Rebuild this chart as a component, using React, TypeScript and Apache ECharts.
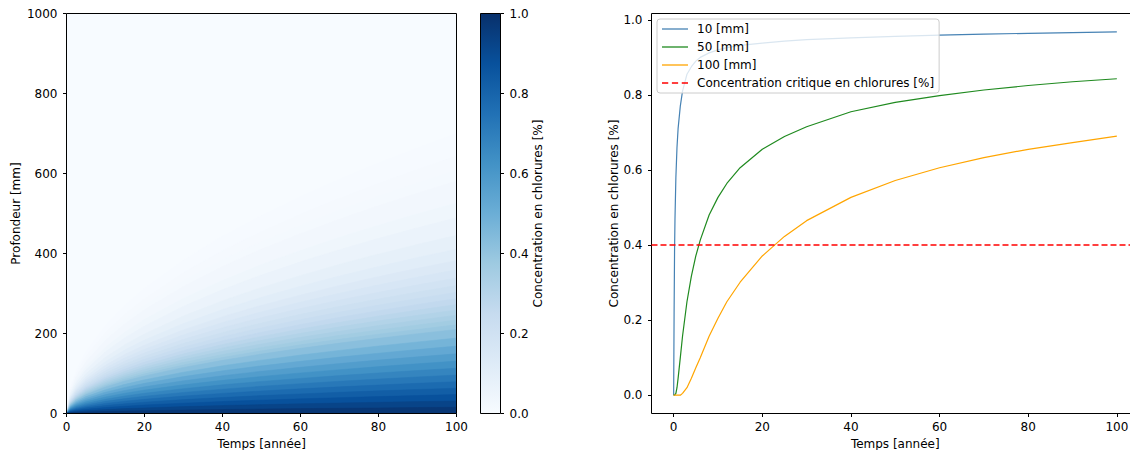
import React, { useEffect, useRef } from 'react';
import * as echarts from 'echarts';

// ---------- colour map (matplotlib "Blues") ----------
const BLUES = ['#f7fbff', '#deebf7', '#c6dbef', '#9ecae1', '#6baed6', '#4292c6', '#2171b5', '#08519c', '#08306b'];

// ---------- left panel: concentration field (iso-concentration depths, mm) ----------
const HEAT_TIMES = [0, 1, 2.5, 5, 10, 15, 20, 30, 40, 50, 60, 70, 80, 90, 100];
const HEAT_LEVELS = [0.95, 0.9, 0.85, 0.8, 0.75, 0.7, 0.65, 0.6, 0.55, 0.5, 0.45, 0.4, 0.375, 0.35, 0.325, 0.3, 0.275, 0.25, 0.225, 0.2, 0.175, 0.15, 0.125, 0.1, 0.075, 0.05, 0.035, 0.02, 0.015, 0.01, 0.005];
const LEVEL_DEPTHS = [
  [0, 1.6, 2.5, 3.5, 5.0, 6.1, 7.0, 8.6, 9.9, 11.1, 12.2, 13.1, 14.0, 14.9, 15.7],
  [0, 3.1, 5.0, 7.0, 9.9, 12.2, 14.0, 17.2, 19.9, 22.2, 24.3, 26.3, 28.1, 29.8, 31.4],
  [0, 4.7, 7.5, 10.6, 15.0, 18.3, 21.2, 25.9, 29.9, 33.4, 36.6, 39.6, 42.3, 44.9, 47.3],
  [0, 6.3, 10.0, 14.2, 20.0, 24.5, 28.3, 34.7, 40.0, 44.8, 49.0, 53.0, 56.6, 60.1, 63.3],
  [0, 8.0, 12.6, 17.8, 25.2, 30.8, 35.6, 43.6, 50.3, 56.3, 61.7, 66.6, 71.2, 75.5, 79.6],
  [0, 9.6, 15.2, 21.5, 30.5, 37.3, 43.1, 52.7, 60.9, 68.1, 74.6, 80.6, 86.1, 91.4, 96.3],
  [0, 11.3, 17.9, 25.3, 35.8, 43.9, 50.7, 62.1, 71.7, 80.1, 87.8, 94.8, 101.3, 107.5, 113.3],
  [0, 13.1, 20.7, 29.3, 41.4, 50.7, 58.6, 71.7, 82.9, 92.6, 101.5, 109.6, 117.2, 124.3, 131.0],
  [0, 14.9, 23.6, 33.4, 47.2, 57.8, 66.8, 81.8, 94.4, 105.6, 115.6, 124.9, 133.5, 141.6, 149.3],
  [0, 16.9, 26.6, 37.7, 53.3, 65.3, 75.4, 92.3, 106.6, 119.1, 130.5, 141.0, 150.7, 159.9, 168.5],
  [0, 18.9, 29.8, 42.2, 59.6, 73.0, 84.3, 103.3, 119.3, 133.4, 146.1, 157.8, 168.7, 178.9, 188.6],
  [0, 21.0, 33.2, 47.0, 66.5, 81.4, 94.0, 115.2, 133.0, 148.7, 162.9, 176.0, 188.1, 199.5, 210.3],
  [0, 22.2, 35.1, 49.6, 70.1, 85.9, 99.1, 121.4, 140.2, 156.8, 171.7, 185.5, 198.3, 210.3, 221.7],
  [0, 23.4, 36.9, 52.2, 73.8, 90.4, 104.4, 127.9, 147.7, 165.1, 180.9, 195.4, 208.8, 221.5, 233.5],
  [0, 24.6, 38.9, 55.0, 77.8, 95.2, 110.0, 134.7, 155.5, 173.9, 190.5, 205.7, 219.9, 233.3, 245.9],
  [0, 25.9, 40.9, 57.9, 81.9, 100.3, 115.8, 141.8, 163.8, 183.1, 200.5, 216.6, 231.6, 245.6, 258.9],
  [0, 27.3, 43.1, 61.0, 86.2, 105.6, 121.9, 149.3, 172.4, 192.8, 211.2, 228.1, 243.8, 258.6, 272.6],
  [0, 28.7, 45.4, 64.3, 90.9, 111.3, 128.5, 157.4, 181.8, 203.2, 222.6, 240.5, 257.1, 272.7, 287.4],
  [0, 30.3, 47.9, 67.8, 95.9, 117.4, 135.6, 166.1, 191.8, 214.4, 234.9, 253.7, 271.2, 287.6, 303.2],
  [0, 32.0, 50.6, 71.6, 101.2, 124.0, 143.2, 175.4, 202.5, 226.4, 248.0, 267.9, 286.4, 303.8, 320.2],
  [0, 33.9, 53.6, 75.8, 107.2, 131.3, 151.6, 185.7, 214.4, 239.7, 262.6, 283.6, 303.2, 321.6, 339.0],
  [0, 36.0, 56.9, 80.4, 113.7, 139.3, 160.8, 197.0, 227.4, 254.3, 278.5, 300.9, 321.6, 341.2, 359.6],
  [0, 38.3, 60.5, 85.6, 121.0, 148.2, 171.1, 209.6, 242.1, 270.6, 296.4, 320.2, 342.3, 363.1, 382.7],
  [0, 41.1, 65.0, 91.9, 129.9, 159.1, 183.8, 225.1, 259.9, 290.5, 318.3, 343.8, 367.5, 389.8, 410.9],
  [0, 44.6, 70.5, 99.7, 141.0, 172.7, 199.4, 244.2, 282.0, 315.2, 345.3, 373.0, 398.7, 422.9, 445.8],
  [0, 49.0, 77.4, 109.5, 154.8, 189.6, 218.9, 268.2, 309.7, 346.2, 379.2, 409.6, 437.9, 464.5, 489.6],
  [0, 52.7, 83.2, 117.7, 166.5, 203.9, 235.5, 288.4, 333.0, 372.3, 407.8, 440.5, 470.9, 499.5, 526.5],
  [0, 58.1, 91.9, 130.0, 183.8, 225.1, 259.9, 318.3, 367.6, 411.0, 450.2, 486.3, 519.8, 551.4, 581.2],
  [0, 60.9, 96.2, 136.1, 192.4, 235.7, 272.1, 333.3, 384.9, 430.3, 471.3, 509.1, 544.2, 577.3, 608.5],
  [0, 64.4, 101.7, 143.9, 203.5, 249.2, 287.8, 352.4, 407.0, 455.0, 498.5, 538.4, 575.5, 610.5, 643.5],
  [0, 70.1, 110.9, 156.8, 221.8, 271.6, 313.6, 384.1, 443.6, 495.9, 543.2, 586.8, 627.2, 665.3, 701.3],
];
const HEAT_X_RANGE = [0, 100];
const HEAT_Y_RANGE = [0, 1000];

// ---------- right panel: concentration vs time at three depths ----------
const LINE_TIMES = [0, 0.1, 0.2, 0.3, 0.5, 0.75, 1, 1.5, 2, 3, 4, 5, 6, 8, 10, 12, 15, 20, 25, 30, 40, 50, 60, 70, 80, 90, 100];
const C_10MM = [0, 0.22, 0.38, 0.47, 0.58, 0.66, 0.71, 0.77, 0.81, 0.855, 0.875, 0.89, 0.9, 0.912, 0.92, 0.926, 0.932, 0.938, 0.943, 0.947, 0.952, 0.956, 0.959, 0.962, 0.964, 0.966, 0.968];
const C_50MM = [0, 0, 0, 0, 0.005, 0.02, 0.045, 0.1, 0.157, 0.249, 0.317, 0.371, 0.413, 0.48, 0.527, 0.564, 0.606, 0.655, 0.689, 0.715, 0.755, 0.78, 0.798, 0.813, 0.825, 0.835, 0.843];
const C_100MM = [0, 0, 0, 0, 0, 0, 0, 0, 0.005, 0.02, 0.045, 0.073, 0.1, 0.157, 0.205, 0.249, 0.301, 0.371, 0.423, 0.465, 0.527, 0.572, 0.606, 0.633, 0.655, 0.673, 0.69];
const CRITICAL = 0.4;
const SERIES_NAMES = ['10 [mm]', '50 [mm]', '100 [mm]', 'Concentration critique en chlorures [%]'];
const RIGHT_X_TICKS = [0, 20, 40, 60, 80, 100];
const RIGHT_Y_TICKS = [0, 0.2, 0.4, 0.6, 0.8, 1.0];
const RIGHT_X_RANGE = [-5, 105];
const RIGHT_Y_RANGE = [-0.0487, 1.0168];
const CBAR_TICKS_INTERVAL = 0.2;

const FONT = 'DejaVu Sans';
const FS = 12;
const SOLID_ICON = 'path://M0,0h26v1.3h-26z';
const DASH_ICON = 'path://M0,0h6v1.5h-6z M9.5,0h6v1.5h-6z M19,0h6v1.5h-6z';

function cmap(v: number): string {
  return echarts.color.lerp(Math.max(0, Math.min(1, v)), BLUES) as string;
}

export default function App() {
  const ref = useRef<HTMLDivElement>(null);

  useEffect(() => {
    const chart = echarts.init(ref.current!, null, { renderer: 'svg' });

    // draw order: background, deepest level ... shallowest level, frame
    const order: Array<number | 'bg' | 'frame'> = ['bg'];
    for (let i = HEAT_LEVELS.length - 1; i >= 0; i--) order.push(i);
    order.push('frame');

    const tickStyle = { show: true, length: 3.5, inside: false, lineStyle: { color: '#000', width: 1 } };
    const labelStyle = { color: '#000', fontSize: FS, fontFamily: FONT };
    const nameStyle = { color: '#000', fontSize: FS, fontFamily: FONT };
    const noLine = { show: false, onZero: false };

    const lineSeries = (name: string, vals: number[], color: string) => ({
      type: 'line',
      name,
      xAxisIndex: 2,
      yAxisIndex: 2,
      data: LINE_TIMES.map((t, i) => [t, vals[i]]),
      symbol: 'none',
      showSymbol: false,
      smooth: false,
      lineStyle: { color, width: 1.2 },
      itemStyle: { color },
      z: 3,
    });

    const option: any = {
      animation: false,
      backgroundColor: '#ffffff',
      grid: [
        { left: 66.5, top: 13.5, width: 390, height: 400, show: false, containLabel: false, outerBoundsMode: 'none' },
        { left: 480.5, top: 13.5, width: 20, height: 400, show: false, containLabel: false, outerBoundsMode: 'none' },
        { left: 651.5, top: 13.5, width: 487.5, height: 400, show: true, borderColor: '#000', borderWidth: 1, backgroundColor: 'transparent', containLabel: false, outerBoundsMode: 'none' },
      ],
      xAxis: [
        {
          gridIndex: 0, type: 'value', min: HEAT_X_RANGE[0], max: HEAT_X_RANGE[1], interval: 20,
          axisLine: noLine, axisTick: tickStyle, splitLine: { show: false },
          axisLabel: { ...labelStyle, margin: 7 },
          name: 'Temps [année]', nameLocation: 'middle', nameGap: 24, nameTextStyle: nameStyle,
        },
        { gridIndex: 1, type: 'value', min: 0, max: 1, show: false, axisLine: noLine },
        {
          gridIndex: 2, type: 'value', min: RIGHT_X_RANGE[0], max: RIGHT_X_RANGE[1],
          axisLine: noLine, splitLine: { show: false },
          axisTick: { ...tickStyle, customValues: RIGHT_X_TICKS },
          axisLabel: { ...labelStyle, margin: 7, customValues: RIGHT_X_TICKS },
          name: 'Temps [année]', nameLocation: 'middle', nameGap: 24, nameTextStyle: nameStyle,
        },
      ],
      yAxis: [
        {
          gridIndex: 0, type: 'value', min: HEAT_Y_RANGE[0], max: HEAT_Y_RANGE[1], interval: 200,
          axisLine: noLine, axisTick: tickStyle, splitLine: { show: false },
          axisLabel: { ...labelStyle, margin: 9, formatter: (v: number) => String(v) },
          name: 'Profondeur [mm]', nameLocation: 'middle', nameRotate: 90, nameGap: 45, nameTextStyle: nameStyle,
        },
        {
          gridIndex: 1, type: 'value', position: 'right', min: 0, max: 1, interval: CBAR_TICKS_INTERVAL,
          axisLine: noLine, axisTick: tickStyle, splitLine: { show: false },
          axisLabel: { ...labelStyle, margin: 9, formatter: (v: number) => v.toFixed(1) },
          name: 'Concentration en chlorures [%]', nameLocation: 'middle', nameRotate: 90, nameGap: 30, nameTextStyle: nameStyle,
        },
        {
          gridIndex: 2, type: 'value', min: RIGHT_Y_RANGE[0], max: RIGHT_Y_RANGE[1],
          axisLine: noLine, splitLine: { show: false },
          axisTick: { ...tickStyle, customValues: RIGHT_Y_TICKS },
          axisLabel: { ...labelStyle, margin: 9, customValues: RIGHT_Y_TICKS, formatter: (v: number) => v.toFixed(1) },
          name: 'Concentration en chlorures [%]', nameLocation: 'middle', nameRotate: 90, nameGap: 32, nameTextStyle: nameStyle,
        },
      ],
      legend: {
        show: true,
        orient: 'vertical',
        left: 657,
        top: 19,
        itemWidth: 26,
        itemHeight: 12,
        itemGap: 6,
        padding: [4, 5, 4, 5],
        backgroundColor: 'rgba(255,255,255,0.8)',
        borderColor: '#cccccc',
        borderWidth: 1,
        borderRadius: 3,
        textStyle: { color: '#000', fontSize: FS, fontFamily: FONT, padding: [0, 0, 0, 4] },
        data: [
          { name: SERIES_NAMES[0], icon: SOLID_ICON },
          { name: SERIES_NAMES[1], icon: SOLID_ICON },
          { name: SERIES_NAMES[2], icon: SOLID_ICON },
          { name: SERIES_NAMES[3], icon: DASH_ICON },
        ],
        z: 10,
      },
      series: [
        {
          type: 'custom',
          coordinateSystem: 'cartesian2d',
          xAxisIndex: 0,
          yAxisIndex: 0,
          clip: false,
          silent: true,
          z: 1,
          data: order.map((_, i) => [i]),
          renderItem: (params: any, api: any) => {
            const item = order[params.dataIndex];
            const p0 = api.coord([HEAT_X_RANGE[0], HEAT_Y_RANGE[1]]);
            const p1 = api.coord([HEAT_X_RANGE[1], HEAT_Y_RANGE[0]]);
            if (item === 'bg') {
              return {
                type: 'rect', z2: 0,
                shape: { x: p0[0], y: p0[1], width: p1[0] - p0[0], height: p1[1] - p0[1] },
                style: { fill: cmap(HEAT_LEVELS[HEAT_LEVELS.length - 1] / 2) },
              };
            }
            if (item === 'frame') {
              return {
                type: 'rect', z2: 1000,
                shape: { x: p0[0], y: p0[1], width: p1[0] - p0[0], height: p1[1] - p0[1] },
                style: { fill: 'none', stroke: '#000', lineWidth: 1 },
              };
            }
            const i = item as number;
            const upper = i === 0 ? 1 : HEAT_LEVELS[i - 1];
            const color = cmap((HEAT_LEVELS[i] + upper) / 2);
            const pts = HEAT_TIMES.map((t, j) => api.coord([t, LEVEL_DEPTHS[i][j]]));
            pts.push(api.coord([HEAT_X_RANGE[1], HEAT_Y_RANGE[0]]));
            pts.push(api.coord([HEAT_X_RANGE[0], HEAT_Y_RANGE[0]]));
            return {
              type: 'polygon', z2: 10 + (HEAT_LEVELS.length - i),
              shape: { points: pts },
              style: { fill: color, stroke: color, lineWidth: 0.5 },
            };
          },
        },
        {
          type: 'custom',
          coordinateSystem: 'cartesian2d',
          xAxisIndex: 1,
          yAxisIndex: 1,
          clip: false,
          silent: true,
          z: 1,
          data: [[0]],
          renderItem: (params: any, api: any) => {
            const p0 = api.coord([0, 1]);
            const p1 = api.coord([1, 0]);
            return {
              type: 'rect',
              shape: { x: p0[0], y: p0[1], width: p1[0] - p0[0], height: p1[1] - p0[1] },
              style: {
                fill: new echarts.graphic.LinearGradient(0, 1, 0, 0, BLUES.map((c, k) => ({ offset: k / (BLUES.length - 1), color: c }))),
                stroke: '#000',
                lineWidth: 1,
              },
            };
          },
        },
        lineSeries(SERIES_NAMES[0], C_10MM, '#4682b4'),
        lineSeries(SERIES_NAMES[1], C_50MM, '#1f8a1f'),
        lineSeries(SERIES_NAMES[2], C_100MM, '#ffa500'),
        {
          type: 'line',
          name: SERIES_NAMES[3],
          xAxisIndex: 2,
          yAxisIndex: 2,
          data: [],
          symbol: 'none',
          showSymbol: false,
          lineStyle: { color: '#ff0000', width: 1.5, type: [6, 3] },
          itemStyle: { color: '#ff0000' },
          markLine: {
            silent: true,
            symbol: ['none', 'none'],
            label: { show: false },
            lineStyle: { color: '#ff0000', width: 1.5, type: [6, 3] },
            data: [{ yAxis: CRITICAL }],
          },
          z: 3,
        },
      ],
    };

    chart.setOption(option);
    return () => chart.dispose();
  }, []);

  return <div ref={ref} style={{ position: 'absolute', left: 0, top: 0, width: 1130, height: 450 }} />;
}
